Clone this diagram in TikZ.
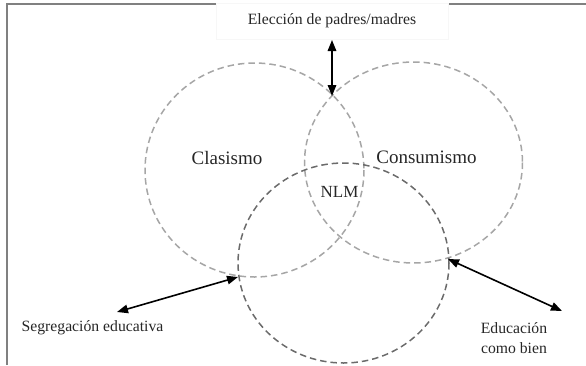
\documentclass[tikz,border=0pt]{standalone}
\usepackage{fontspec}
\setmainfont{Liberation Serif}
\usepackage{tkz-euclide}
\usetikzlibrary{arrows.meta}

\tikzset{
  ring/.style={dash pattern=on 6.5pt off 4pt, line width=1.5pt, draw=black!35},
  ringdark/.style={ring, draw=black!58},
  lab/.style={font=\fontsize{15.7}{20}\selectfont, text=black!85, inner sep=0pt},
  biglab/.style={lab, font=\fontsize{19}{22}\selectfont},
  link/.style={{Triangle[length=11pt,width=8.5pt]}-{Triangle[length=11pt,width=8.5pt]},
    line width=1.6pt, black}
}

\begin{document}
\begin{tikzpicture}[semithick, x=1pt, y=-1pt]
  \useasboundingbox (0,0) rectangle (586,365);
  \tkzDefPoints{254.5/170/C, 413.5/162.5/K, 343.5/263/N}
  \tkzDefPoints{332/40/P1, 332/96/P2, 117/312/S1, 238/277/S2, 562/311/E1, 448/259/E2}

  % frame
  \draw[black!50, line width=1.8pt] (7,365) -- (7,4) -- (586,4);

  \draw[ring] (C) ellipse [x radius=109.5, y radius=107];
  \draw[ring] (K) ellipse [x radius=109, y radius=100.5];
  \draw[ringdark] (N) ellipse [x radius=105.5, y radius=100];

  \node[lab, fill=white, draw=black!3, minimum width=232, minimum height=36] (padres) at (332,21) {Elección de padres/madres};
  \node[biglab] (clas) at (227,158) {Clasismo};
  \node[biglab] (cons) at (426.5,157) {Consumismo};
  \node[lab, font=\fontsize{17}{20}\selectfont] (nlm) at (339.5,192) {NLM};
  \node[lab] (segr) at (92.5,328) {Segregación educativa};
  \node[lab, align=center] (bien) at (514,338) {Educación\\como bien};

  \tkzDrawSegments[link](P1,P2 S1,S2 E1,E2)
%   \tkzDrawPoints[color=red](C,K,N)
\end{tikzpicture}
\end{document}
